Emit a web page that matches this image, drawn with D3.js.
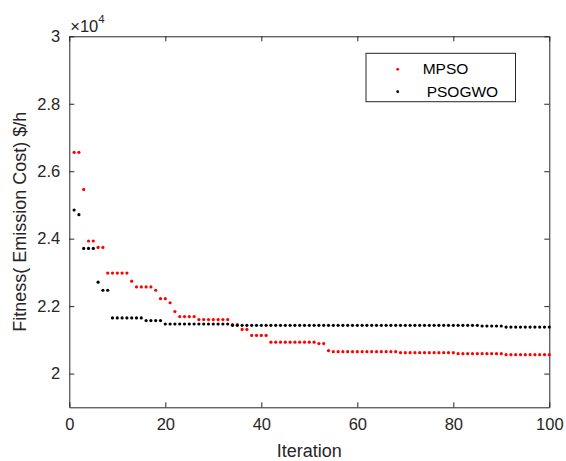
<!DOCTYPE html>
<html>
<head>
<meta charset="utf-8">
<script src="https://cdn.jsdelivr.net/npm/d3@7"></script>
<style>
  body { margin: 0; background: #fff; }
  svg { display: block; font-family: "Liberation Sans", Arial, sans-serif; }
</style>
</head>
<body>
<div id="chart"></div>
<script>
/**
 * CONSTANTS AND DATA
 * */
const width = 566,
  height = 461,
  margin = { top: 36.3, bottom: 53.7, left: 69.3, right: 16.7 };

const xTicks = [0, 20, 40, 60, 80, 100];
const yTicks = [20000, 22000, 24000, 26000, 28000, 30000];

// fitness per iteration (1..100), $/h
const mpso = [
  26560, 26560, 25460, 23930, 23930, 23740, 23740, 22980, 22980, 22980,
  22980, 22980, 22740, 22570, 22570, 22570, 22570, 22470, 22220, 22220,
  22100, 21840, 21690, 21690, 21690, 21690, 21600, 21600, 21600, 21600,
  21600, 21600, 21600, 21450, 21450, 21310, 21310, 21130, 21130, 21130,
  21130, 20930, 20930, 20930, 20930, 20930, 20930, 20930, 20930, 20930,
  20930, 20890, 20890, 20680, 20650, 20650, 20650, 20650, 20650, 20650,
  20650, 20650, 20650, 20650, 20650, 20650, 20650, 20650, 20620, 20620,
  20620, 20620, 20620, 20620, 20620, 20620, 20620, 20620, 20620, 20620,
  20590, 20590, 20590, 20590, 20590, 20590, 20590, 20590, 20590, 20590,
  20560, 20560, 20560, 20560, 20560, 20560, 20560, 20560, 20560, 20560
];

const psogwo = [
  24850, 24710, 23710, 23710, 23710, 22710, 22470, 22470, 21650, 21650,
  21650, 21650, 21650, 21650, 21650, 21570, 21570, 21570, 21570, 21470,
  21470, 21470, 21470, 21470, 21470, 21470, 21470, 21470, 21470, 21470,
  21470, 21470, 21470, 21430, 21430, 21430, 21430, 21430, 21430, 21430,
  21430, 21430, 21430, 21430, 21430, 21430, 21430, 21430, 21430, 21430,
  21430, 21430, 21430, 21430, 21430, 21430, 21430, 21430, 21430, 21430,
  21430, 21430, 21430, 21430, 21430, 21430, 21430, 21430, 21430, 21430,
  21430, 21430, 21430, 21430, 21430, 21430, 21430, 21430, 21430, 21430,
  21430, 21430, 21430, 21430, 21430, 21410, 21410, 21410, 21410, 21410,
  21380, 21380, 21380, 21380, 21380, 21380, 21380, 21380, 21380, 21380
];

const series = [
  { name: "MPSO", values: mpso, color: "#ff0000" },
  { name: "PSOGWO", values: psogwo, color: "#000000" }
];

const axisColor = "#262626";

/**
 * DRAW
 * */
const svg = d3.select("#chart")
  .append("svg")
  .attr("width", width)
  .attr("height", height);

const x = d3.scaleLinear()
  .domain([0, 100])
  .range([margin.left, width - margin.right]);

const y = d3.scaleLinear()
  .domain([19000, 30000])
  .range([height - margin.bottom, margin.top]);

// axes (box with inward ticks on all sides)
const fmtY = d => d3.format("~g")(d / 10000);

const xAxis = svg.append("g")
  .attr("transform", `translate(0,${height - margin.bottom})`)
  .call(d3.axisBottom(x).tickValues(xTicks).tickSizeInner(-5).tickSizeOuter(0).tickPadding(11));
const xTop = svg.append("g")
  .attr("transform", `translate(0,${margin.top})`)
  .call(d3.axisTop(x).tickValues(xTicks).tickSizeInner(-5).tickSizeOuter(0).tickFormat(""));
const yAxis = svg.append("g")
  .attr("transform", `translate(${margin.left},0)`)
  .call(d3.axisLeft(y).tickValues(yTicks).tickFormat(fmtY).tickSizeInner(-5).tickSizeOuter(0).tickPadding(9));
const yRight = svg.append("g")
  .attr("transform", `translate(${width - margin.right},0)`)
  .call(d3.axisRight(y).tickValues(yTicks).tickSizeInner(-5).tickSizeOuter(0).tickFormat(""));

[xAxis, xTop, yAxis, yRight].forEach(g => {
  g.select(".domain").attr("stroke", axisColor).attr("stroke-width", 1);
  g.selectAll(".tick line").attr("stroke", axisColor);
  g.selectAll(".tick text")
    .attr("fill", axisColor)
    .attr("font-size", 16.5)
    .attr("font-family", "Liberation Sans, Arial, sans-serif");
});

// exponent label
const expo = svg.append("text")
  .attr("x", margin.left + 1)
  .attr("y", 32)
  .attr("fill", axisColor)
  .attr("font-size", 16.5);
expo.append("tspan").text("\u00d710");
expo.append("tspan").attr("font-size", 11.5).attr("dy", -9).text("4");

// axis titles
svg.append("text")
  .attr("x", x(50))
  .attr("y", 457)
  .attr("text-anchor", "middle")
  .attr("fill", axisColor)
  .attr("font-size", 18)
  .text("Iteration");

svg.append("text")
  .attr("transform", `translate(26,${(margin.top + height - margin.bottom) / 2}) rotate(-90)`)
  .attr("text-anchor", "middle")
  .attr("fill", axisColor)
  .attr("font-size", 18)
  .text("Fitness( Emission Cost) $/h");

// points
series.forEach(s => {
  svg.append("g")
    .selectAll("circle")
    .data(s.values)
    .join("circle")
    .attr("cx", (d, i) => x(i + 1))
    .attr("cy", d => y(d))
    .attr("r", 1.6)
    .attr("fill", s.color);
});

// legend
const legend = svg.append("g");
legend.append("rect")
  .attr("x", 366)
  .attr("y", 53.3)
  .attr("width", 149.5)
  .attr("height", 48.4)
  .attr("fill", "#fff")
  .attr("stroke", axisColor)
  .attr("stroke-width", 1);

const legendY = [69.3, 91.7];
const legendTextX = [422.7, 426.7];
series.forEach((s, i) => {
  legend.append("circle")
    .attr("cx", 397.7)
    .attr("cy", legendY[i])
    .attr("r", 1.4)
    .attr("fill", s.color);
  legend.append("text")
    .attr("x", legendTextX[i])
    .attr("y", legendY[i] + 5)
    .attr("fill", "#000")
    .attr("font-size", 15.5)
    .text(s.name);
});
</script>
</body>
</html>
